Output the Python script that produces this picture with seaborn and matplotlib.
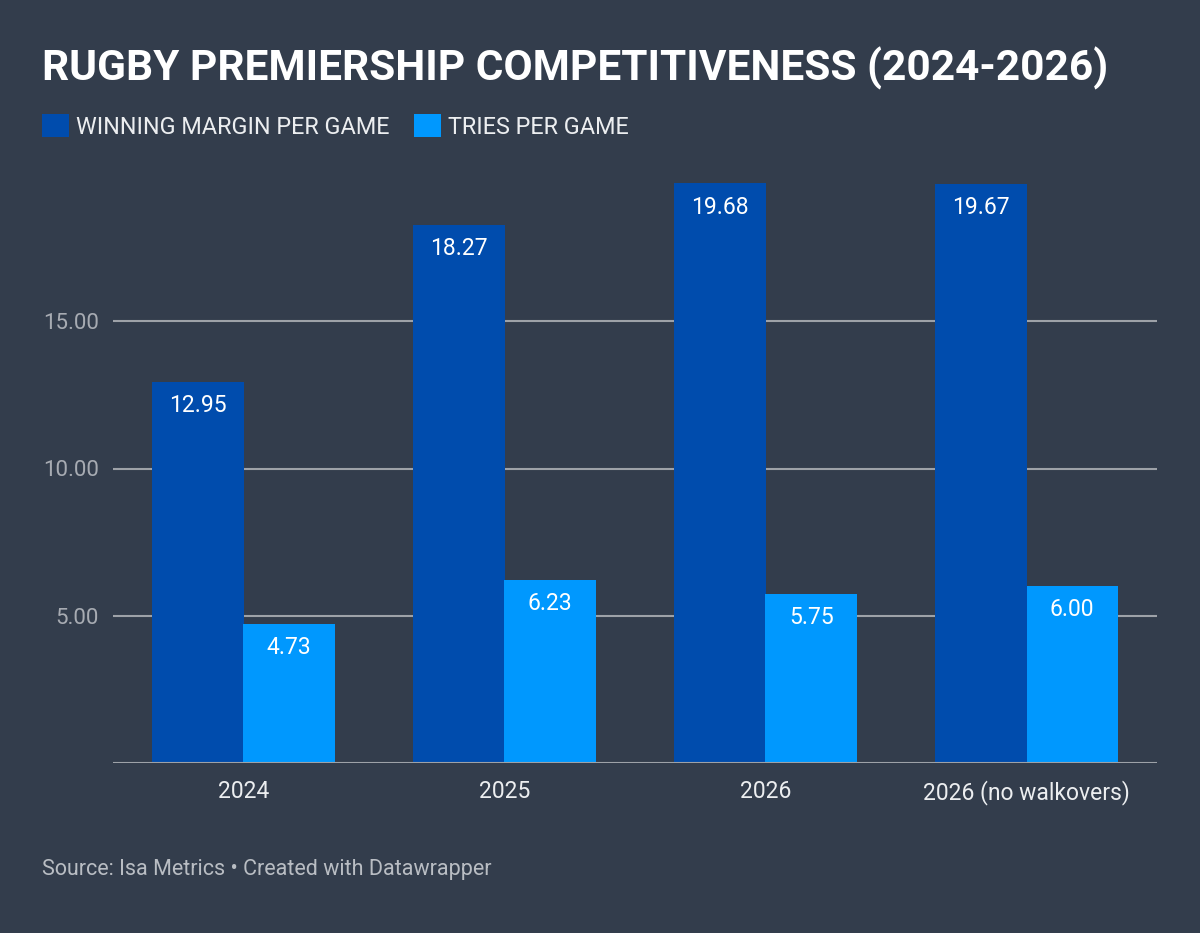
import matplotlib
matplotlib.use("Agg")
import matplotlib.pyplot as plt
import pandas as pd
import seaborn as sns

# --- data ---
seasons = ["2024", "2025", "2026", "2026 (no walkovers)"]
winning_margin = [12.95, 18.27, 19.68, 19.67]
tries = [4.73, 6.23, 5.75, 6.00]
metrics = ["WINNING MARGIN PER GAME", "TRIES PER GAME"]
y_ticks = [5, 10, 15]

df = pd.DataFrame({
    "season": seasons * 2,
    "value": winning_margin + tries,
    "metric": [metrics[0]] * len(seasons) + [metrics[1]] * len(seasons),
})

# --- style ---
BG = "#333d4c"
DARK = "#004cad"
LIGHT = "#0098fe"
GRID = "#9ea2a8"

sns.set_theme(style="white")
plt.rcParams["font.family"] = ["Roboto", "DejaVu Sans"]

fig = plt.figure(figsize=(12, 9.33), dpi=100, facecolor=BG)
ax = fig.add_axes([113 / 1200, 1 - 763 / 933, (1157 - 113) / 1200, (763 - 174) / 933])
ax.set_facecolor(BG)

sns.barplot(data=df, x="season", y="value", hue="metric", palette=[DARK, LIGHT],
            width=0.7, saturation=1, gap=0, linewidth=0, ax=ax, zorder=3)

ax.set_xlim(-0.5, 3.5)
ax.set_ylim(0, 20)
ax.set_yticks(y_ticks)
ax.set_yticklabels([f"{t:.2f}" for t in y_ticks])
ax.set_xlabel("")
ax.set_ylabel("")
for y in y_ticks:
    ax.axhline(y, color=GRID, lw=1.5, zorder=1)
ax.axhline(0, color=GRID, lw=1.5, zorder=4)
for s in ax.spines.values():
    s.set_visible(False)
ax.tick_params(axis="y", length=0, pad=10, labelsize=16, labelcolor="#a7abb2")
ax.tick_params(axis="x", length=0, pad=12, labelsize=16.5, labelcolor="#eceef0")

# value labels just inside the top of each bar
for cont in ax.containers:
    for bar in cont:
        h = bar.get_height()
        ax.annotate(f"{h:.2f}", (bar.get_x() + bar.get_width() / 2, h),
                    xytext=(0, -17), textcoords="offset points",
                    ha="center", va="center", color="white", fontsize=16.5, zorder=5)

# legend
handles, labels = ax.get_legend_handles_labels()
ax.get_legend().remove()
fig.legend(handles, labels, loc="upper left", bbox_to_anchor=(42 / 1200, 1 - 114 / 933),
           ncol=2, frameon=False, fontsize=16.8, labelcolor="#eceef0",
           handlelength=1.16, handleheight=1.16, handletextpad=0.3,
           columnspacing=1.05, borderpad=0, borderaxespad=0)

fig.text(42 / 1200, 1 - 81 / 933, "RUGBY PREMIERSHIP COMPETITIVENESS (2024-2026)",
         fontsize=30.5, fontweight="bold", color="white", va="baseline", ha="left")
fig.text(42 / 1200, 1 - 875 / 933, "Source: Isa Metrics \u2022 Created with Datawrapper",
         fontsize=15.5, color="#b9bdc3", va="baseline", ha="left")

fig.savefig("out.png", dpi=100, facecolor=BG)
